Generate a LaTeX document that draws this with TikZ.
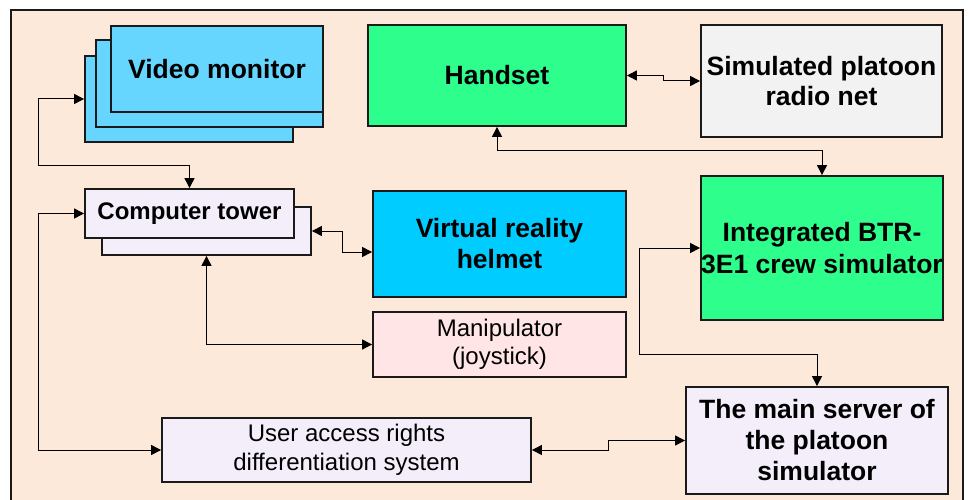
\documentclass[tikz,border=0pt]{standalone}
\usepackage{fontspec}
\setmainfont{Liberation Sans}
\usetikzlibrary{arrows.meta}

\definecolor{framefill}{HTML}{FDE9DA}
\definecolor{monblue}{HTML}{66D6FF}
\definecolor{vrblue}{HTML}{00CCFF}
\definecolor{simgreen}{HTML}{2EFF8C}
\definecolor{lavender}{HTML}{F4EEFB}
\definecolor{netgrey}{HTML}{F2F2F2}
\definecolor{joypink}{HTML}{FFE5E5}
\definecolor{edge}{HTML}{1A1A1A}

\tikzset{
  unit/.style={draw=edge, line width=1.8pt, inner sep=0pt, align=center},
  boldtext/.style={font=\fontsize{26.5}{#1}\selectfont\bfseries},
  boldtext/.default=31,
  plaintext/.style={font=\fontsize{24}{#1}\selectfont},
  plaintext/.default=29,
  link/.style={draw=black, line width=1pt,
    {Triangle[length=10pt,width=10pt]}-{Triangle[length=10pt,width=10pt]}},
}

\begin{document}
\begin{tikzpicture}[x=1pt, y=-1pt]
  \useasboundingbox (0,0) rectangle (969,500);
  \clip (0,0) rectangle (969,500);
  \fill[white] (0,0) rectangle (969,500);
  \draw[fill=framefill, draw=edge, line width=1.6pt] (11,10) rectangle (963,530);

  % stacked monitors
  \node[unit, fill=monblue, minimum width=208, minimum height=86] (vmback) at (189,99) {};
  \node[unit, fill=monblue, minimum width=227, minimum height=87] (vmmid) at (209.5,83.5) {};
  \node[unit, boldtext, fill=monblue, minimum width=212, minimum height=86] (vm) at (217,69) {Video monitor};

  % computer tower (two stacked cases)
  \node[unit, fill=lavender, minimum width=209, minimum height=48] (towerback) at (206.5,231) {};
  \node[unit, font=\fontsize{24}{28}\selectfont\bfseries, fill=lavender,
        minimum width=209, minimum height=49] (tower) at (189.5,213.5) {Computer tower};

  \node[unit, boldtext, fill=simgreen, minimum width=258, minimum height=101] (handset) at (497,75.5) {Handset};
  \node[unit, boldtext=30, fill=netgrey, minimum width=241, minimum height=112] (radio) at (821.5,81)
    {Simulated platoon\\radio net};
  \node[unit, boldtext, fill=vrblue, minimum width=253, minimum height=106] (vr) at (499.5,244)
    {Virtual reality\\helmet};
  \node[unit, boldtext=32, fill=simgreen, minimum width=242, minimum height=144] (integ) at (822,248)
    {Integrated BTR-\\3E1 crew simulator};
  \node[unit, plaintext=28, fill=joypink, minimum width=253, minimum height=65] (manip) at (499.5,344.5)
    {Manipulator\\(joystick)};
  \node[unit, plaintext, fill=lavender, minimum width=369, minimum height=64] (access) at (346.5,450)
    {User access rights\\differentiation system};
  \node[unit, boldtext, fill=lavender, minimum width=262, minimum height=107] (server) at (817,440.5)
    {The main server of\\the platoon\\simulator};

  % connections
  \draw[link] (vmback.west) -| (38,165) -| (tower.north);
  \draw[link] (tower.west) -| (38,450) -- (access.west);
  \draw[link] (towerback.east) -- (342,231) -- (342,252) -- (vr.west |- 342,252);
  \draw[link] (towerback.south) |- (manip.west);
  \draw[link] (handset.south) -- (497,151) -| (integ.north);
  \draw[link] (handset.east) -- (663,75.5) |- (radio.west);
  \draw[link] (integ.west) -| (639,354) -| (server.north);
  \draw[link] (access.east) -- (608,450) |- (server.west);
\end{tikzpicture}
\end{document}
